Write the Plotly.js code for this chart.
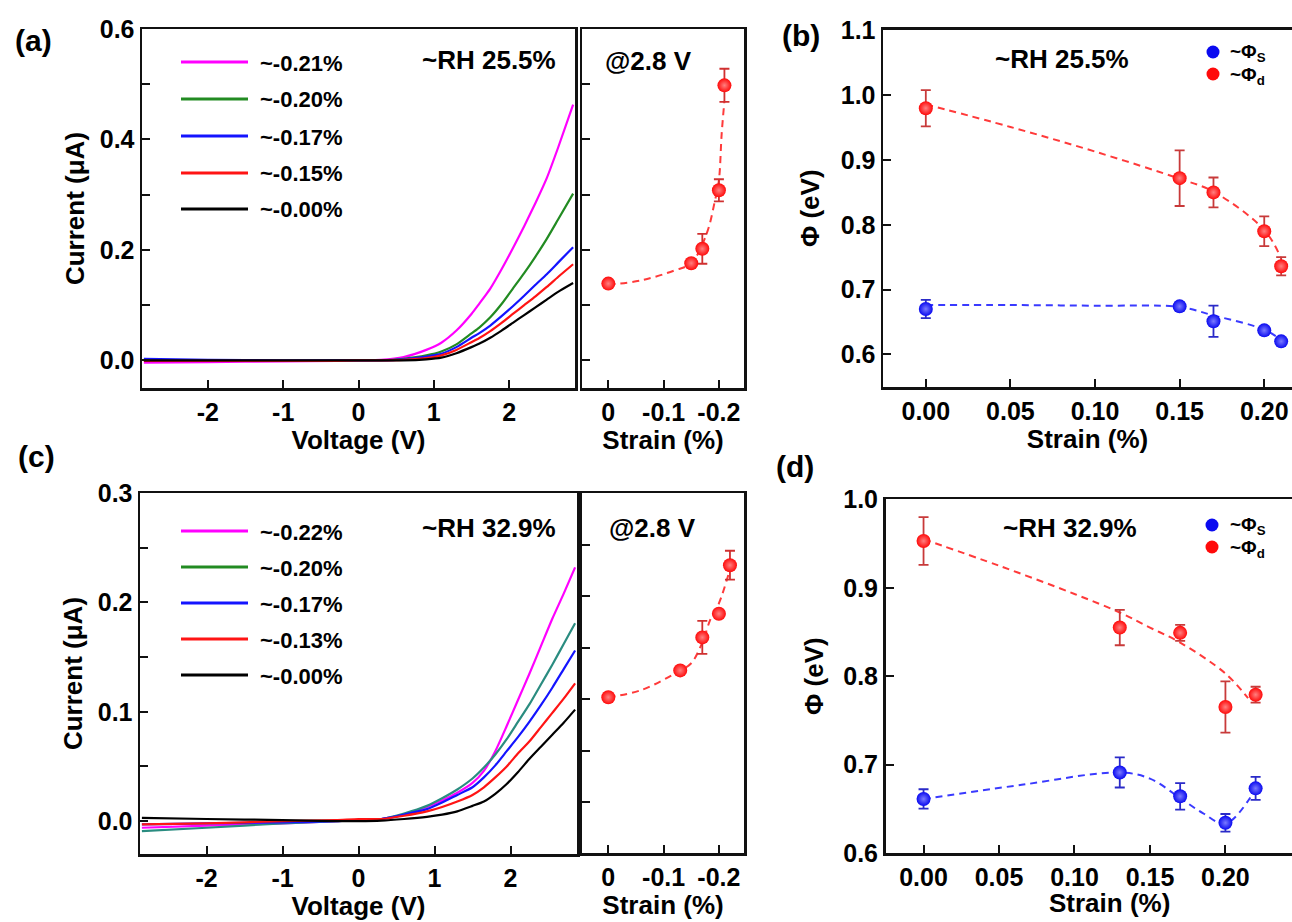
<!DOCTYPE html>
<html><head><meta charset="utf-8">
<script src="https://cdn.plot.ly/plotly-3.0.1.min.js"></script>
<style>html,body{margin:0;padding:0;background:#fff;}#chart{width:1292px;height:922px;}</style>
</head><body><div id="chart"></div>
<script>
// ---------- Panel (a): I-V curves, RH 25.5% ----------
const voltageA = [-2.85, -2.0, -1.0, -0.3, 0.0, 0.3, 0.6, 0.9, 1.1, 1.3, 1.5, 1.6, 1.75, 1.9, 2.05, 2.2, 2.35, 2.5, 2.65, 2.85];
const currA_021 = [-0.004, -0.003, -0.002, -0.001, 0.0, 0.001, 0.006, 0.019, 0.032, 0.054, 0.084, 0.102, 0.130, 0.165, 0.203, 0.243, 0.285, 0.330, 0.385, 0.463];
const currA_020 = [0.001, 0.0, -0.001, 0.0, 0.0, 0.0, 0.003, 0.009, 0.016, 0.029, 0.049, 0.059, 0.078, 0.102, 0.130, 0.158, 0.188, 0.220, 0.255, 0.302];
const currA_017 = [0.003, 0.001, 0.0, 0.0, 0.0, 0.0, 0.002, 0.007, 0.012, 0.024, 0.041, 0.049, 0.063, 0.080, 0.098, 0.117, 0.137, 0.156, 0.177, 0.205];
const currA_015 = [-0.001, -0.001, -0.001, -0.001, 0.0, 0.0, 0.001, 0.004, 0.009, 0.019, 0.033, 0.040, 0.053, 0.068, 0.084, 0.100, 0.116, 0.133, 0.151, 0.174];
const currA_000 = [0.0, 0.0, 0.0, 0.0, 0.0, 0.0, 0.0, 0.002, 0.005, 0.013, 0.024, 0.030, 0.041, 0.054, 0.068, 0.082, 0.096, 0.110, 0.124, 0.140];
const labelsA = ['~-0.21%', '~-0.20%', '~-0.17%', '~-0.15%', '~-0.00%'];

// inset (a): current at 2.8 V vs strain
const strainA = [0, -0.15, -0.17, -0.20, -0.21];
const currAt28A = [0.139, 0.176, 0.202, 0.308, 0.498];
const currAt28A_err = [0, 0, 0.027, 0.020, 0.030];
const fitStrainA = [0, -0.06, -0.12, -0.15, -0.178, -0.193, -0.20, -0.205, -0.21];
const fitCurrA = [0.137, 0.145, 0.163, 0.176, 0.230, 0.290, 0.326, 0.410, 0.470];

// ---------- Panel (b): barrier heights, RH 25.5% ----------
const strainB = [0, 0.15, 0.17, 0.20, 0.21];
const phiD_B = [0.980, 0.872, 0.850, 0.790, 0.736];
const phiD_B_err = [0.028, 0.043, 0.023, 0.023, 0.014];
const phiS_B = [0.670, 0.674, 0.651, 0.637, 0.620];
const phiS_B_err = [0.014, 0.006, 0.024, 0.005, 0.004];
const fitStrainB = [0, 0.05, 0.10, 0.15, 0.17, 0.20, 0.21];
const fitPhiD_B = [0.986, 0.951, 0.913, 0.871, 0.851, 0.792, 0.748];
const fitPhiS_B = [0.676, 0.676, 0.675, 0.673, 0.660, 0.638, 0.622];

// ---------- Panel (c): I-V curves, RH 32.9% ----------
const voltageC = [-2.85, -2.0, -1.0, -0.3, 0.0, 0.3, 0.6, 0.9, 1.1, 1.3, 1.5, 1.65, 1.8, 1.95, 2.1, 2.25, 2.4, 2.55, 2.7, 2.85];
const currC_022 = [-0.006, -0.004, -0.002, 0.0, 0.001, 0.002, 0.006, 0.013, 0.019, 0.026, 0.035, 0.046, 0.064, 0.087, 0.111, 0.135, 0.160, 0.185, 0.208, 0.232];
const currC_020 = [-0.009, -0.006, -0.002, 0.0, 0.001, 0.002, 0.007, 0.014, 0.021, 0.029, 0.039, 0.049, 0.061, 0.075, 0.091, 0.107, 0.125, 0.143, 0.162, 0.181];
const currC_017 = [-0.003, -0.002, -0.001, 0.0, 0.001, 0.002, 0.006, 0.011, 0.017, 0.024, 0.031, 0.040, 0.051, 0.064, 0.077, 0.091, 0.106, 0.122, 0.139, 0.156];
const currC_013 = [-0.003, -0.002, 0.0, 0.001, 0.002, 0.002, 0.005, 0.009, 0.013, 0.018, 0.024, 0.031, 0.040, 0.050, 0.062, 0.073, 0.086, 0.099, 0.112, 0.126];
const currC_000 = [0.003, 0.002, 0.001, 0.0, 0.0, 0.0005, 0.002, 0.004, 0.006, 0.009, 0.014, 0.018, 0.025, 0.034, 0.045, 0.057, 0.068, 0.079, 0.090, 0.102];
const labelsC = ['~-0.22%', '~-0.20%', '~-0.17%', '~-0.13%', '~-0.00%'];

// inset (c)
const strainC = [0, -0.13, -0.17, -0.20, -0.22];
const currAt28C = [0.102, 0.128, 0.160, 0.183, 0.230];
const currAt28C_err = [0, 0, 0.016, 0, 0.014];
const fitStrainC = [0, -0.06, -0.13, -0.15, -0.17, -0.185, -0.20, -0.22];
const fitCurrC = [0.102, 0.109, 0.128, 0.135, 0.155, 0.178, 0.193, 0.226];

// ---------- Panel (d): barrier heights, RH 32.9% ----------
const strainD = [0, 0.13, 0.17, 0.20, 0.22];
const phiD_D = [0.953, 0.855, 0.849, 0.765, 0.779];
const phiD_D_err = [0.027, 0.020, 0.009, 0.029, 0.009];
const phiS_D = [0.661, 0.691, 0.664, 0.634, 0.673];
const phiS_D_err = [0.011, 0.017, 0.015, 0.010, 0.013];
const fitStrainD_d = [0, 0.05, 0.10, 0.13, 0.15, 0.17, 0.20, 0.215];
const fitPhiD_D = [0.955, 0.925, 0.893, 0.872, 0.855, 0.838, 0.803, 0.775];
const fitStrainD_s = [0, 0.065, 0.13, 0.15, 0.17, 0.185, 0.20, 0.22];
const fitPhiS_D = [0.661, 0.677, 0.691, 0.684, 0.662, 0.645, 0.633, 0.672];

// tick labels
const voltTickVals = [-2, -1, 0, 1, 2];
const voltTickText = ['-2', '-1', '0', '1', '2'];
const strainTickVals = [0, -0.1, -0.2];
const strainTickText = ['0', '-0.1', '-0.2'];

// ---------- styling ----------
const W = 1292, H = 922;
const px = v => v / W, py = v => 1 - v / H;
const F = 'Liberation Sans, Arial, Helvetica, sans-serif';
const tickFont = {family: F, size: 25, color: '#000', weight: 700};
const titleFont = {family: F, size: 26, color: '#000', weight: 700};
const colorsA = ['#ff00ff', '#228b22', '#1414ff', '#ff1414', '#000000'];
const colorsC = ['#ff00ff', '#2a8c80', '#1414ff', '#ff1414', '#000000'];
const legendColorsC = ['#ff00ff', '#228b22', '#1414ff', '#ff1414', '#000000'];
const RED = '#ff0a0a', BLUE = '#0a0af0';

function axis(o) {
  return Object.assign({showline: true, linecolor: '#111', linewidth: 2.5, mirror: true,
    ticks: 'inside', ticklen: 8, tickwidth: 2, tickcolor: '#111', showgrid: false,
    zeroline: false, tickfont: tickFont, automargin: false, fixedrange: true}, o);
}
const redMarker = {color: RED, size: 14, gradient: {type: 'radial', color: '#ff8080'}, line: {width: 0}};
const blueMarker = {color: BLUE, size: 14, gradient: {type: 'radial', color: '#7a7aff'}, line: {width: 0}};
const errStyle = (arr, c) => ({type: 'data', array: arr, visible: true, color: c, thickness: 1.8, width: 5});
const dashLine = c => ({color: c, width: 2, dash: '7px,5px', shape: 'spline', smoothing: 1});

const traces = [];
const seriesA = [currA_021, currA_020, currA_017, currA_015, currA_000];
seriesA.forEach((s, i) => traces.push({x: voltageA, y: s, xaxis: 'x', yaxis: 'y', mode: 'lines',
  name: labelsA[i], showlegend: false, line: {color: colorsA[i], width: 2.2, shape: 'spline', smoothing: 0.6}}));
traces.push({x: fitStrainA, y: fitCurrA, xaxis: 'x2', yaxis: 'y2', mode: 'lines', showlegend: false, line: dashLine('#ff3a3a')});
traces.push({x: strainA, y: currAt28A, xaxis: 'x2', yaxis: 'y2', mode: 'markers', showlegend: false,
  marker: redMarker, error_y: errStyle(currAt28A_err, '#d03030')});

traces.push({x: fitStrainB, y: fitPhiD_B, xaxis: 'x3', yaxis: 'y3', mode: 'lines', showlegend: false, line: dashLine('#ff3a3a')});
traces.push({x: fitStrainB, y: fitPhiS_B, xaxis: 'x3', yaxis: 'y3', mode: 'lines', showlegend: false, line: dashLine('#3a3aff')});
traces.push({x: strainB, y: phiD_B, xaxis: 'x3', yaxis: 'y3', mode: 'markers', name: '~Φd', showlegend: false,
  marker: redMarker, error_y: errStyle(phiD_B_err, '#c83a3a')});
traces.push({x: strainB, y: phiS_B, xaxis: 'x3', yaxis: 'y3', mode: 'markers', name: '~ΦS', showlegend: false,
  marker: blueMarker, error_y: errStyle(phiS_B_err, '#2a2ac8')});

const seriesC = [currC_022, currC_020, currC_017, currC_013, currC_000];
seriesC.forEach((s, i) => traces.push({x: voltageC, y: s, xaxis: 'x4', yaxis: 'y4', mode: 'lines',
  name: labelsC[i], showlegend: false, line: {color: colorsC[i], width: 2.2, shape: 'spline', smoothing: 0.6}}));
traces.push({x: fitStrainC, y: fitCurrC, xaxis: 'x5', yaxis: 'y5', mode: 'lines', showlegend: false, line: dashLine('#ff3a3a')});
traces.push({x: strainC, y: currAt28C, xaxis: 'x5', yaxis: 'y5', mode: 'markers', showlegend: false,
  marker: redMarker, error_y: errStyle(currAt28C_err, '#d03030')});

traces.push({x: fitStrainD_d, y: fitPhiD_D, xaxis: 'x6', yaxis: 'y6', mode: 'lines', showlegend: false, line: dashLine('#ff3a3a')});
traces.push({x: fitStrainD_s, y: fitPhiS_D, xaxis: 'x6', yaxis: 'y6', mode: 'lines', showlegend: false, line: dashLine('#3a3aff')});
traces.push({x: strainD, y: phiD_D, xaxis: 'x6', yaxis: 'y6', mode: 'markers', name: '~Φd', showlegend: false,
  marker: redMarker, error_y: errStyle(phiD_D_err, '#c83a3a')});
traces.push({x: strainD, y: phiS_D, xaxis: 'x6', yaxis: 'y6', mode: 'markers', name: '~ΦS', showlegend: false,
  marker: blueMarker, error_y: errStyle(phiS_D_err, '#2a2ac8')});

// ---------- annotations & legend decorations ----------
const ann = [];
const shapes = [];
function txt(t, x, y, size, xanchor) {
  ann.push({text: t, xref: 'paper', yref: 'paper', x: px(x), y: py(y), xanchor: xanchor || 'center',
    yanchor: 'middle', showarrow: false, font: {family: F, size: size, color: '#000', weight: 700}});
}
txt('(a)', 33, 40, 30); txt('(b)', 801, 36, 30); txt('(c)', 36, 456, 30); txt('(d)', 795, 466, 30);
txt('~RH 25.5%', 489, 60, 26); txt('@2.8 V', 648, 61, 26); txt('~RH 25.5%', 1062, 59, 26);
txt('~RH 32.9%', 489, 528, 26); txt('@2.8 V', 653, 528, 26); txt('~RH 32.9%', 1070, 528, 26);
txt('Strain (%)', 1109, 903, 26);

const rowsA = [62, 99, 136, 173, 209];
const rowsC = [531, 567, 603, 639, 675];
labelsA.forEach((l, i) => {
  shapes.push({type: 'line', xref: 'paper', yref: 'paper', x0: px(181), x1: px(248), y0: py(rowsA[i]), y1: py(rowsA[i]), line: {color: colorsA[i], width: 3}});
  txt(l, 258, rowsA[i] + 1, 22, 'left');
});
labelsC.forEach((l, i) => {
  shapes.push({type: 'line', xref: 'paper', yref: 'paper', x0: px(181), x1: px(248), y0: py(rowsC[i]), y1: py(rowsC[i]), line: {color: legendColorsC[i], width: 3}});
  txt(l, 258, rowsC[i] + 1, 22, 'left');
});
function dot(cx, cy, c) {
  shapes.push({type: 'circle', xref: 'paper', yref: 'paper', x0: px(cx - 6.5), x1: px(cx + 6.5), y0: py(cy + 6.5), y1: py(cy - 6.5), fillcolor: c, line: {width: 0}});
}
dot(1213, 52, BLUE); dot(1213, 74, RED); dot(1212, 525, BLUE); dot(1212, 547, RED);
txt('~Φ<sub>S</sub>', 1228, 53, 19, 'left'); txt('~Φ<sub>d</sub>', 1228, 76, 19, 'left');
txt('~Φ<sub>S</sub>', 1228, 526, 19, 'left'); txt('~Φ<sub>d</sub>', 1228, 549, 19, 'left');

const minorA = {dtick: 0.1, ticks: 'inside', ticklen: 8, tickwidth: 2, tickcolor: '#111'};
const minorC = {dtick: 0.05, ticks: 'inside', ticklen: 8, tickwidth: 2, tickcolor: '#111'};

const layout = {
  width: W, height: H, margin: {l: 0, r: 0, t: 0, b: 0},
  paper_bgcolor: '#fff', plot_bgcolor: '#fff', showlegend: false,
  font: {family: F, color: '#000'},
  xaxis: axis({domain: [px(142), px(575)], anchor: 'y', range: [-2.875, 2.875], tickvals: voltTickVals, ticktext: voltTickText,
    title: {text: 'Voltage (V)', font: titleFont, standoff: 0}}),
  yaxis: axis({domain: [py(388), py(29)], anchor: 'x', range: [-0.05, 0.6], tick0: 0, dtick: 0.2, tickformat: '.1f', minor: minorA,
    title: {text: 'Current (μA)', font: titleFont, standoff: 8}}),
  xaxis2: axis({domain: [px(582), px(744)], anchor: 'y2', range: [0.0476, -0.2454], tickvals: strainTickVals, ticktext: strainTickText,
    title: {text: 'Strain (%)', font: titleFont, standoff: 0}}),
  yaxis2: axis({domain: [py(388), py(29)], anchor: 'x2', range: [-0.05, 0.6], tick0: 0, dtick: 0.1, showticklabels: false}),
  xaxis3: axis({domain: [px(883), 1], anchor: 'y3', range: [-0.0253, 0.2164], tick0: 0, dtick: 0.05, tickformat: '.2f',
    title: {text: 'Strain (%)', font: titleFont, standoff: 0}}),
  yaxis3: axis({domain: [py(387), py(29.5)], anchor: 'x3', mirror: false, range: [0.5495, 1.1015], tick0: 0.6, dtick: 0.1, tickformat: '.1f',
    title: {text: 'Φ (eV)', font: titleFont, standoff: 14}}),
  xaxis4: axis({domain: [px(140), px(577)], anchor: 'y4', range: [-2.875, 2.875], tickvals: voltTickVals, ticktext: voltTickText,
    title: {text: 'Voltage (V)', font: titleFont, standoff: 2}}),
  yaxis4: axis({domain: [py(854), py(493)], anchor: 'x4', range: [-0.03, 0.3], tick0: 0, dtick: 0.1, tickformat: '.1f', minor: minorC,
    title: {text: 'Current (μA)', font: titleFont, standoff: 8}}),
  xaxis5: axis({domain: [px(582), px(744)], anchor: 'y5', range: [0.0476, -0.2454], tickvals: strainTickVals, ticktext: strainTickText,
    title: {text: 'Strain (%)', font: titleFont, standoff: 2}}),
  yaxis5: axis({domain: [py(853), py(493)], anchor: 'x5', range: [-0.049, 0.30], tick0: 0, dtick: 0.05, showticklabels: false}),
  xaxis6: axis({domain: [px(885.5), 1], anchor: 'y6', range: [-0.0252, 0.2441], tick0: 0, dtick: 0.05, tickformat: '.2f'}),
  yaxis6: axis({domain: [py(853.3), py(499)], anchor: 'x6', mirror: false, range: [0.5995, 1.0005], tick0: 0.6, dtick: 0.1, tickformat: '.1f',
    title: {text: 'Φ (eV)', font: titleFont, standoff: 12}}),
  annotations: ann,
  shapes: shapes
};

Plotly.newPlot('chart', traces, layout, {displayModeBar: false, staticPlot: true});
</script>
</body></html>
